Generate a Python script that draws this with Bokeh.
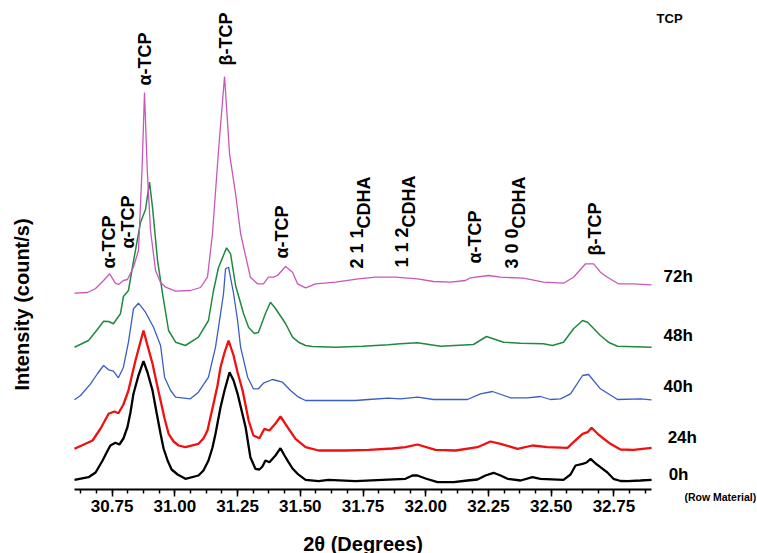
from bokeh.plotting import figure
from bokeh.models import Range1d, Label, SingleIntervalTicker, PrintfTickFormatter
from bokeh.embed import file_html
from bokeh.resources import INLINE

# ---- data (2theta in degrees, displayed intensity in arbitrary counts/s incl. stacking) ----
theta_0h = [30.600, 30.656, 30.684, 30.712, 30.728, 30.743, 30.763, 30.779, 30.795, 30.811,
            30.823, 30.835, 30.855, 30.875, 30.891, 30.911, 30.927, 30.943, 30.955, 30.971,
            30.987, 31.011, 31.042, 31.094, 31.114, 31.134, 31.150, 31.162, 31.182, 31.198,
            31.218, 31.234, 31.250, 31.266, 31.282, 31.301, 31.321, 31.337, 31.349, 31.361,
            31.377, 31.401, 31.421, 31.437, 31.453, 31.469, 31.489, 31.521, 31.573, 31.612,
            31.720, 31.828, 31.919, 31.947, 31.967, 31.999, 32.047, 32.111, 32.166, 32.206,
            32.238, 32.270, 32.298, 32.326, 32.378, 32.425, 32.457, 32.549, 32.577, 32.597,
            32.625, 32.641, 32.657, 32.677, 32.696, 32.724, 32.748, 32.776, 32.804, 32.856,
            32.900]
int_0h = [9.7, 12.3, 17, 29, 37, 44, 46.7, 45, 51, 62.3,
          77, 95.7, 114, 128.3, 117, 99, 77, 55.7, 41, 29,
          20, 15, 10.7, 14, 19, 29, 42, 55.7, 82.3, 99,
          117.3, 109, 95.7, 79, 62.3, 32.3, 20.7, 20, 23, 29,
          27.3, 34, 41.3, 34, 27.3, 21, 15.7, 9.7, 8.3, 9.7,
          8.3, 9.7, 10.7, 14, 14, 11, 7.3, 7.3, 9, 10,
          14, 16.7, 14, 10.7, 9, 12.3, 10.7, 9.7, 15, 24,
          25.7, 27, 30.7, 26, 22.3, 17, 10.7, 8.5, 8.3, 9,
          9.7]

theta_24h = [30.600, 30.672, 30.704, 30.736, 30.759, 30.775, 30.795, 30.815, 30.827, 30.843,
             30.859, 30.875, 30.891, 30.911, 30.927, 30.943, 30.959, 30.975, 30.995, 31.015,
             31.042, 31.094, 31.114, 31.130, 31.154, 31.170, 31.182, 31.198, 31.214, 31.234,
             31.250, 31.270, 31.294, 31.313, 31.337, 31.357, 31.377, 31.401, 31.421, 31.449,
             31.481, 31.521, 31.573, 31.680, 31.772, 31.867, 31.919, 31.967, 32.039, 32.119,
             32.206, 32.258, 32.298, 32.366, 32.425, 32.485, 32.565, 32.589, 32.625, 32.645,
             32.661, 32.685, 32.708, 32.736, 32.776, 32.828, 32.900]
int_24h = [40.7, 49, 61, 75.7, 78, 76.3, 85, 99, 112, 129,
           144, 159, 144, 125.7, 107, 89, 71, 55.7, 48, 44,
           42.3, 45.7, 51, 59, 85.7, 104, 122.3, 137, 149, 134,
           117, 99, 69, 54, 51.3, 60.7, 59, 66, 73, 62.3,
           50.7, 42.3, 39, 39, 39.7, 41, 42.3, 45, 39.7, 39,
           42.3, 48, 45.7, 40.7, 44, 42.3, 41.7, 47.3, 55.7, 57.3,
           61.7, 55.7, 51, 45.7, 40, 39.7, 41.7]

theta_40h = [30.600, 30.624, 30.664, 30.692, 30.716, 30.736, 30.755, 30.775, 30.795, 30.815,
             30.835, 30.855, 30.883, 30.915, 30.943, 30.959, 30.983, 31.003, 31.062, 31.094,
             31.134, 31.162, 31.182, 31.194, 31.202, 31.214, 31.234, 31.250, 31.262, 31.290,
             31.313, 31.333, 31.353, 31.389, 31.429, 31.461, 31.493, 31.521, 31.612, 31.720,
             31.772, 31.851, 31.899, 31.967, 32.031, 32.166, 32.218, 32.266, 32.338, 32.406,
             32.457, 32.497, 32.537, 32.577, 32.625, 32.649, 32.696, 32.764, 32.856, 32.900]
int_40h = [89.7, 94, 105.7, 116, 124, 119.7, 118.3, 111.7, 122.3, 147.3,
           180.7, 186.3, 177.3, 162.3, 144, 112.3, 99, 92.3, 90.7, 97.3,
           112.3, 142.3, 175.7, 196, 220.7, 222.3, 196, 169, 142.3, 112.3,
           100.7, 100.7, 106.3, 110, 107.3, 99, 92.3, 89, 89, 89,
           90, 91.3, 90.7, 92.3, 90, 90, 95.7, 98, 91.7, 91.7,
           93, 90, 90.7, 95.7, 114, 115, 100.7, 90, 90.7, 89.7]

theta_48h = [30.600, 30.656, 30.688, 30.716, 30.736, 30.755, 30.783, 30.795, 30.815, 30.835,
             30.863, 30.883, 30.899, 30.911, 30.931, 30.951, 30.975, 31.003, 31.042, 31.094,
             31.134, 31.154, 31.174, 31.206, 31.222, 31.242, 31.274, 31.294, 31.317, 31.333,
             31.361, 31.381, 31.401, 31.441, 31.469, 31.493, 31.521, 31.549, 31.640, 31.748,
             31.851, 31.899, 31.967, 32.059, 32.190, 32.242, 32.310, 32.378, 32.469, 32.505,
             32.549, 32.589, 32.625, 32.645, 32.696, 32.728, 32.764, 32.900]
int_48h = [142.3, 149, 159, 168.3, 168, 165.7, 175.7, 193, 199, 228,
           267, 280, 307.3, 282, 229, 195.7, 159, 147.3, 144, 152.3,
           169, 199, 222, 241.7, 235.7, 204, 175.7, 162, 156, 157,
           176, 187.3, 181, 166, 152.3, 147.3, 144, 143, 142.3, 143.3,
           144.7, 145.7, 146.7, 143.3, 145, 153, 147.3, 146.3, 145.7, 144,
           147.3, 160.7, 169, 167.3, 154, 147.3, 143.3, 142.3]

theta_72h = [30.600, 30.652, 30.684, 30.716, 30.740, 30.763, 30.775, 30.795, 30.811, 30.835,
             30.855, 30.869, 30.879, 30.890, 30.903, 30.923, 30.943, 30.963, 31.003, 31.062,
             31.102, 31.130, 31.150, 31.174, 31.198, 31.218, 31.242, 31.262, 31.274, 31.301,
             31.329, 31.353, 31.373, 31.393, 31.409, 31.441, 31.469, 31.489, 31.521, 31.561,
             31.640, 31.732, 31.800, 31.879, 31.967, 32.031, 32.099, 32.158, 32.178, 32.250,
             32.298, 32.390, 32.469, 32.549, 32.589, 32.637, 32.669, 32.696, 32.724, 32.768,
             32.828, 32.900]
int_72h = [196.3, 197, 201, 209, 215.7, 206.3, 205, 209, 210, 222.3,
           239, 319, 397, 319, 259, 219, 207, 202.3, 198.3, 199,
           202, 212.3, 256, 339, 413, 335.7, 295.7, 256, 242.3, 212.3,
           205.7, 205.7, 212.3, 212.3, 214, 223, 217.3, 205.7, 201.7, 205.7,
           207.3, 210.7, 212.3, 212.3, 210.7, 208, 207.3, 209, 211.7, 214,
           212.3, 211.3, 207.3, 206.3, 212.3, 225.7, 225.7, 217.3, 212.3, 205.7,
           205.7, 204.7]

series_names = ["0h", "24h", "40h", "48h", "72h"]
series_theta = [theta_0h, theta_24h, theta_40h, theta_48h, theta_72h]
series_int = [int_0h, int_24h, int_40h, int_48h, int_72h]

# peak assignments (2theta of label, intensity at label foot, phase, hkl subscript)
peak_theta = [30.736, 30.815, 30.879, 31.202, 31.429, 31.726, 31.905, 32.198, 32.344, 32.673]
peak_base = [221, 241, 404, 424, 231, 221, 222, 226, 221, 234]
peak_text = ["α-TCP", "α-TCP", "α-TCP", "β-TCP", "α-TCP", "2 1 1", "1 1 2", "α-TCP", "3 0 0", "β-TCP"]
peak_sub = ["", "", "", "", "", "CDHA", "CDHA", "", "CDHA", ""]

# series label anchors (right side, outside the scanned 2theta range)
label_theta = [32.968, 32.964, 32.948, 32.948, 32.948]
label_y = [15, 51.7, 103, 154, 213]

theta_min, theta_max = 30.6, 32.9

# ---- styles ----
colors = ["#000000", "#F01010", "#3A5CC4", "#1E8A40", "#C857B8"]
widths = [2.3, 2.3, 1.3, 1.5, 1.3]
FONT = "Liberation Sans"

# frame covers the whole canvas; the x axis is pinned at intensity 0
p = figure(width=757, height=553, output_backend="svg", toolbar_location=None,
           x_range=Range1d(30.30506, 33.3222), y_range=Range1d(-64, 489),
           y_axis_location=None, min_border_left=0, min_border_right=0,
           min_border_top=0, min_border_bottom=0)
p.outline_line_color = None
p.grid.visible = False
p.background_fill_color = "white"
p.border_fill_color = "white"

for th, it, c, w in zip(series_theta, series_int, colors, widths):
    p.line(th, it, line_color=c, line_width=w)

ax = p.xaxis[0]
ax.fixed_location = 0
ax.bounds = (theta_min, theta_max)
ax.ticker = SingleIntervalTicker(interval=0.25, num_minor_ticks=4)
ax.formatter = PrintfTickFormatter(format="%.2f")
ax.axis_line_width = 2
ax.axis_line_color = "black"
ax.major_tick_in = 0
ax.major_tick_out = 7
ax.minor_tick_in = 0
ax.minor_tick_out = 4
ax.major_tick_line_width = 1.5
ax.minor_tick_line_width = 1.5
ax.major_tick_line_color = "black"
ax.minor_tick_line_color = "black"
ax.major_label_text_font = FONT
ax.major_label_text_font_style = "bold"
ax.major_label_text_font_size = "17px"
ax.major_label_text_color = "black"
ax.major_label_standoff = 3

def add_label(x, y, text, size, angle=0, align="left", baseline="middle", xo=0, yo=0):
    p.add_layout(Label(x=x, y=y, text=text, text_font=FONT, text_font_style="bold",
                       text_font_size=size, text_color="black", angle=angle,
                       angle_units="deg", text_align=align, text_baseline=baseline,
                       x_offset=xo, y_offset=yo))

for th, base, txt, sub in zip(peak_theta, peak_base, peak_text, peak_sub):
    add_label(th, base, txt, "18px", angle=90)
    if sub:
        add_label(th, base, sub, "18px", angle=90, xo=7, yo=40)

for name, th, yv in zip(series_names, label_theta, label_y):
    add_label(th, yv, name, "17px")

add_label(33.031, -7, "(Row Material)", "10.5px")
add_label(32.92, 471, "TCP", "13px")
add_label((theta_min + theta_max) / 2, -43, "2θ (Degrees)", "20px", align="center", baseline="top")
add_label(30.3927, 185, "Intensity (count/s)", "20px", angle=90, align="center")

open("out.html", "w").write(file_html(p, INLINE))
